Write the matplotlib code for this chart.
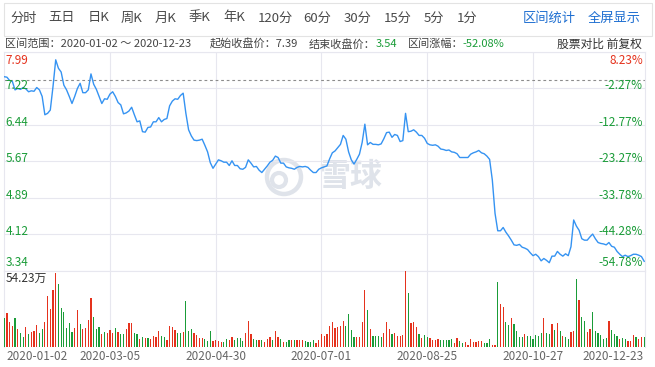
import matplotlib.pyplot as plt
from matplotlib.patches import Circle, Rectangle

plt.rcParams['font.family'] = ['Noto Sans CJK SC', 'DejaVu Sans']

W, H = 655, 367

# daily close, 2020-01-02 .. 2020-12-23 (237 trading days)
close = [
    7.47, 7.46, 7.39, 7.37, 7.19, 7.22, 7.20, 7.24, 7.21, 7.15,
    7.17, 7.16, 7.24, 7.19, 7.05, 6.66, 6.69, 6.76, 7.26, 7.83,
    7.65, 7.57, 7.29, 7.19, 7.05, 6.90, 7.05, 7.22, 7.33, 7.13,
    7.13, 7.19, 7.53, 7.31, 7.20, 7.05, 6.90, 7.00, 6.99, 7.10,
    7.15, 7.05, 6.92, 6.87, 6.68, 6.70, 6.74, 6.82, 6.66, 6.51,
    6.53, 6.30, 6.29, 6.39, 6.40, 6.51, 6.51, 6.60, 6.51, 6.56,
    6.58, 6.85, 6.95, 7.00, 6.99, 7.07, 7.12, 6.69, 6.34, 6.21,
    6.12, 6.11, 6.12, 6.14, 6.01, 5.87, 5.64, 5.52, 5.61, 5.70,
    5.68, 5.65, 5.65, 5.58, 5.68, 5.58, 5.58, 5.51, 5.50, 5.54,
    5.70, 5.63, 5.55, 5.56, 5.48, 5.43, 5.50, 5.57, 5.65, 5.69,
    5.78, 5.75, 5.63, 5.63, 5.55, 5.53, 5.52, 5.50, 5.54, 5.56,
    5.55, 5.56, 5.54, 5.48, 5.43, 5.43, 5.50, 5.53, 5.55, 5.57,
    5.72, 5.85, 5.89, 5.96, 6.03, 6.22, 6.14, 5.87, 5.70, 5.61,
    5.71, 5.82, 6.07, 6.46, 6.02, 6.07, 6.03, 6.03, 6.02, 6.04,
    6.15, 6.28, 6.29, 6.18, 6.24, 6.22, 6.09, 6.11, 6.69, 6.30,
    6.31, 6.34, 6.29, 6.22, 6.22, 6.16, 6.05, 6.02, 6.01, 6.02,
    5.99, 5.93, 5.92, 5.90, 5.91, 5.87, 5.86, 5.83, 5.75, 5.75,
    5.75, 5.75, 5.82, 5.85, 5.87, 5.90, 5.85, 5.83, 5.78, 5.71,
    5.27, 4.56, 4.19, 4.19, 4.26, 4.16, 4.08, 3.99, 3.89, 3.88,
    3.90, 3.84, 3.82, 3.79, 3.72, 3.66, 3.69, 3.64, 3.55, 3.60,
    3.56, 3.51, 3.65, 3.65, 3.75, 3.69, 3.65, 3.70, 3.66, 3.85,
    4.42, 4.29, 4.20, 4.02, 3.99, 3.99, 4.06, 4.12, 4.02, 3.94,
    3.92, 3.91, 3.89, 3.94, 3.86, 3.84, 3.75, 3.69, 3.64, 3.67,
    3.64, 3.66, 3.69, 3.69, 3.67, 3.64, 3.54,
]

# daily volume in 万 shares
volume = [
    20.6, 24.2, 18.2, 15.4, 20.4, 12.8, 10.4, 7.6, 14.7, 9.2,
    10.7, 11.4, 15.6, 10.4, 12.8, 18.2, 36.0, 27.0, 40.3, 52.6,
    44.8, 27.7, 24.9, 14.0, 17.0, 11.1, 14.0, 26.5, 16.3, 12.8,
    14.0, 19.2, 34.8, 21.3, 12.8, 14.7, 9.5, 11.1, 9.9, 12.3,
    10.4, 14.0, 10.9, 9.5, 9.5, 13.0, 17.0, 17.0, 9.9, 9.2,
    5.9, 7.1, 6.4, 6.4, 5.9, 8.3, 7.6, 11.6, 8.3, 7.1,
    5.2, 15.2, 14.2, 12.3, 9.9, 10.4, 10.9, 32.9, 11.8, 12.8,
    9.9, 8.5, 6.4, 6.4, 6.2, 4.7, 11.6, 4.7, 5.2, 4.7,
    4.0, 4.0, 5.7, 5.2, 7.6, 5.2, 6.4, 6.4, 4.7, 9.9,
    18.5, 9.5, 6.2, 5.2, 5.2, 5.2, 3.6, 5.7, 7.6, 5.2,
    11.6, 7.6, 5.7, 4.0, 4.0, 5.2, 5.2, 5.2, 5.2, 5.2,
    5.2, 4.7, 4.0, 4.0, 5.2, 3.3, 5.2, 9.5,
    8.1, 9.5, 15.4, 18.2, 13.5, 14.7, 15.2, 18.9, 15.2, 23.7,
    12.3, 7.1, 7.1, 7.1, 17.8, 40.7, 26.5, 12.8, 8.1, 8.1,
    8.1, 7.1, 9.9, 18.0, 12.8, 9.5, 9.9, 8.1, 8.1, 8.5,
    54.23, 38.4, 17.0, 18.0, 14.7, 9.5, 6.4, 8.5, 7.6, 6.4,
    5.2, 5.2, 5.7, 5.2, 5.2, 5.2, 5.2, 5.7, 3.3, 6.4,
    4.7, 2.8, 3.6, 1.7, 5.7, 4.0, 4.0, 4.7, 4.5, 2.8,
    2.8, 5.7, 1.4, 1.4, 46.4, 30.8, 28.4, 18.2, 15.9, 20.6,
    16.6, 11.8, 7.6, 7.1, 9.5, 8.1, 8.1, 5.7, 8.5, 8.1,
    9.9, 20.6, 10.4, 9.5, 16.6, 12.3, 17.0, 11.8, 8.1, 7.6,
    5.7, 11.1, 11.4, 48.3, 33.6, 21.3, 18.7, 11.1, 12.8, 25.3,
    11.8, 10.4, 8.8, 5.7, 6.4, 18.7, 12.3, 9.5, 8.1, 5.9,
    6.4, 5.9, 4.7, 4.7, 8.5, 7.1, 5.7, 7.1, 7.1,
]

# r = up day, g = down day
side = (
    "grrrgrggrg" "rrrggrrrrr" "ggggggrrgr" "rrrgggrgrr" "rgrggrrrgg"
    "rgrgrrrrgg" "rrrrggrggg" "rrrrgggrrr" "rggrrggggr" "rrggrgrrrg"
    "rrgrggrgrrr" "ggggrrr"
    "rrrrrrrrgg" "ggrrrrgrgg" "ggrrrgrrrr" "rgrrrgrggr" "rrrgggggrr"
    "ggrrrrrrrg" "ggrrgrrggr" "ggggrggggg" "grggrgrgrg" "grrgrggrrg"
    "gggggrgggr" "ggrrrgrrg"
)

start_close = 7.39
price_ticks = [7.99, 7.22, 6.44, 5.67, 4.89, 4.12, 3.34]
pct_labels = ["8.23%", "-2.27%", "-12.77%", "-23.27%", "-33.78%", "-44.28%", "-54.78%"]
date_idx = [0, 39, 78, 117, 156, 195, 236]
date_labels = ["2020-01-02", "2020-03-05", "2020-04-30", "2020-07-01",
               "2020-08-25", "2020-10-27", "2020-12-23"]
vol_max = 54.23

tabs = ["分时", "五日", "日K", "周K", "月K", "季K", "年K",
        "120分", "60分", "30分", "15分", "5分", "1分"]
tab_x = [10, 48, 88, 121, 155, 189, 223, 258, 303, 344, 384, 424, 457]

RED = "#e5321d"
GREEN = "#1a9c38"
BLUE_LINE = "#3593f2"
GRID = "#e7e7ef"
TXT = "#444444"

fig = plt.figure(figsize=(W / 100, H / 100), dpi=100)

# overlay in pixel coordinates for header text and watermark
ov = fig.add_axes([0, 0, 1, 1])
ov.set_xlim(0, W)
ov.set_ylim(H, 0)
ov.axis("off")

ov.add_patch(Rectangle((3.5, 2.5), 648, 33, fill=False, ec="#e3e3e3", lw=0.8))
for t, x in zip(tabs, tab_x):
    ov.text(x, 18, t, fontsize=9.5, color="#4a4a4a", va="center", ha="left")
ov.text(523, 18, "区间统计", fontsize=9.5, color="#1f6fd1", va="center")
ov.text(641, 18, "全屏显示", fontsize=9.5, color="#1f6fd1", va="center", ha="right")

row_y = 44
ov.text(5, row_y, "区间范围：2020-01-02 ～ 2020-12-23", fontsize=8, color=TXT, va="center")
ov.text(210, row_y, "起始收盘价：7.39", fontsize=8, color=TXT, va="center")
ov.text(309, row_y, "结束收盘价：", fontsize=8, color=TXT, va="center")
ov.text(376, row_y, "3.54", fontsize=8, color=GREEN, va="center")
ov.text(408, row_y, "区间涨幅：", fontsize=8, color=TXT, va="center")
ov.text(462, row_y, "-52.08%", fontsize=8, color=GREEN, va="center")
ov.text(642, row_y, "股票对比 前复权", fontsize=8.5, color="#333333", va="center", ha="right")

# watermark
wm = "#dfe3ea"
ov.add_patch(Circle((284, 177), 17, fill=False, ec=wm, lw=3.2))
ov.add_patch(Circle((279, 180), 7, fill=False, ec=wm, lw=3.0))
ov.text(350, 177, "雪球", fontsize=23, color=wm, ha="center", va="center",
        fontweight="bold")

x = list(range(len(close)))
left, right = 4, 645
top_p, mid, bot = 52.3, 270.7, 347.3
xlim = (-0.07, 236.3)

ax = fig.add_axes([left / W, 1 - mid / H, (right - left) / W, (mid - top_p) / H])
ax.set_facecolor("none")
ax.plot(x, close, color=BLUE_LINE, lw=1.0, zorder=3)
ax.axhline(start_close, color="#8c8c8c", lw=0.8, ls=(0, (2.5, 2.5)), zorder=2)
ax.set_xlim(*xlim)
ax.set_ylim(price_ticks[-1], price_ticks[0])
for v in price_ticks:
    ax.axhline(v, color=GRID, lw=0.8, zorder=1)
for i in date_idx[1:-1]:
    ax.axvline(i, color=GRID, lw=0.8, zorder=1)
ax.set_xticks([])
ax.set_yticks([])
for s in ax.spines.values():
    s.set_color(GRID)
    s.set_linewidth(0.8)

n = len(price_ticks)
for k, (v, pl) in enumerate(zip(price_ticks, pct_labels)):
    col = RED if k == 0 else GREEN
    if k == 0:
        va, dy = "top", -1
    elif k == n - 1:
        va, dy = "bottom", 1
    else:
        va, dy = "center", 2
    ax.annotate(f"{v:.2f}", xy=(0, v), xycoords=("axes fraction", "data"),
                xytext=(1, dy), textcoords="offset points", ha="left", va=va,
                fontsize=8.5, color=col)
    ax.annotate(pl, xy=(1, v), xycoords=("axes fraction", "data"),
                xytext=(-1.5, dy), textcoords="offset points", ha="right", va=va,
                fontsize=8.5, color=col)

vax = fig.add_axes([left / W, 1 - bot / H, (right - left) / W, (bot - mid) / H])
vax.set_facecolor("none")
colors = [RED if c == "r" else GREEN for c in side]
vax.bar(x, volume, width=0.45, color=colors, zorder=3)
vax.set_xlim(*xlim)
vax.set_ylim(0, vol_max)
for i in date_idx[1:-1]:
    vax.axvline(i, color=GRID, lw=0.8, zorder=1)
vax.set_xticks([])
vax.set_yticks([])
for name, s in vax.spines.items():
    s.set_color(GRID)
    s.set_linewidth(0.8)
vax.spines["bottom"].set_visible(False)
vax.spines["top"].set_visible(False)
vax.annotate(f"{vol_max:.2f}万", xy=(0, 1), xycoords="axes fraction",
             xytext=(1, -1), textcoords="offset points", ha="left", va="top",
             fontsize=8.5, color="#333333")

for k, (i, lab) in enumerate(zip(date_idx, date_labels)):
    ha = "left" if k == 0 else ("right" if k == len(date_idx) - 1 else "center")
    dx = 1.5 if k == 0 else (-0.5 if k == len(date_idx) - 1 else 0)
    vax.annotate(lab, xy=(i, 0), xycoords=("data", "axes fraction"),
                 xytext=(dx, -2), textcoords="offset points", ha=ha, va="top",
                 fontsize=8.5, color="#666666")

fig.savefig("out.png", dpi=100)
